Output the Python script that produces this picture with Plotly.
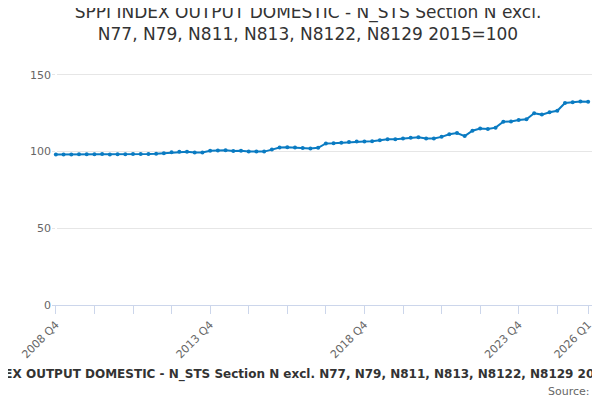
import plotly.graph_objects as go

quarters = [f"{2008 + (i + 3) // 4} Q{(i + 3) % 4 + 1}" for i in range(70)]
values = [98.0, 98.0, 98.0, 98.1, 98.1, 98.1, 98.3, 98.0, 98.1, 98.2,
          98.3, 98.4, 98.3, 98.5, 98.8, 99.5, 99.8, 99.8, 99.3, 99.3,
          100.5, 100.7, 100.8, 100.3, 100.4, 100.0, 100.0, 99.9, 101.2, 102.6,
          102.8, 102.6, 102.3, 101.9, 102.4, 105.2, 105.3, 105.6, 106.2, 106.5,
          106.4, 106.6, 107.3, 108.0, 107.9, 108.4, 108.9, 109.3, 108.4, 108.5,
          109.5, 111.2, 112.0, 110.0, 113.5, 115.0, 114.7, 115.5, 119.3, 119.5,
          120.5, 121.0, 124.9, 124.0, 125.5, 126.5, 131.5, 132.0, 132.5, 132.3]
tick_idx = [0, 5, 10, 15, 20, 25, 30, 35, 40, 45, 50, 55, 60, 65, 69]
tick_text = [quarters[i] if i in (0, 20, 40, 60, 69) else "" for i in tick_idx]

fig = go.Figure()
fig.add_trace(go.Scatter(x=list(range(70)), y=values, mode="lines+markers",
                         line=dict(color="#0a7bc2", width=2),
                         marker=dict(size=4, color="#0a7bc2")))
fig.update_layout(
    width=600, height=400, showlegend=False,
    plot_bgcolor="white", paper_bgcolor="white",
    font=dict(family="DejaVu Sans", color="#666"),
    title=dict(text="SPPI INDEX OUTPUT DOMESTIC - N_STS Section N excl.<br>N77, N79, N811, N813, N8122, N8129 2015=100",
               x=0.5, y=0.975, xanchor="center", yanchor="top",
               font=dict(size=17, color="#333")),
    margin=dict(l=44, r=16, t=59, b=103),
    annotations=[
        dict(text="<b>SPPI INDEX OUTPUT DOMESTIC - N_STS Section N excl. N77, N79, N811, N813, N8122, N8129 2015=100</b>",
             xref="paper", yref="paper", x=0.45, y=-0.33, showarrow=False,
             font=dict(size=12, color="#333", family="DejaVu Sans")),
        dict(text="Source:", xref="paper", yref="paper", x=1.0, y=-0.40,
             xanchor="right", showarrow=False, font=dict(size=11, color="#666")),
    ],
)
fig.update_xaxes(range=[-0.5, 69.5], tickmode="array", tickvals=tick_idx, ticktext=tick_text,
                 tickangle=-45, ticks="outside", ticklen=8, tickcolor="#ccd6eb",
                 showline=True, linecolor="#ccd6eb", showgrid=False,
                 tickfont=dict(size=11, color="#666"))
fig.update_yaxes(range=[0, 155], tickvals=[0, 50, 100, 150], gridcolor="#e6e6e6",
                 zeroline=False, tickfont=dict(size=11, color="#666"))
fig.write_html("out.html")
